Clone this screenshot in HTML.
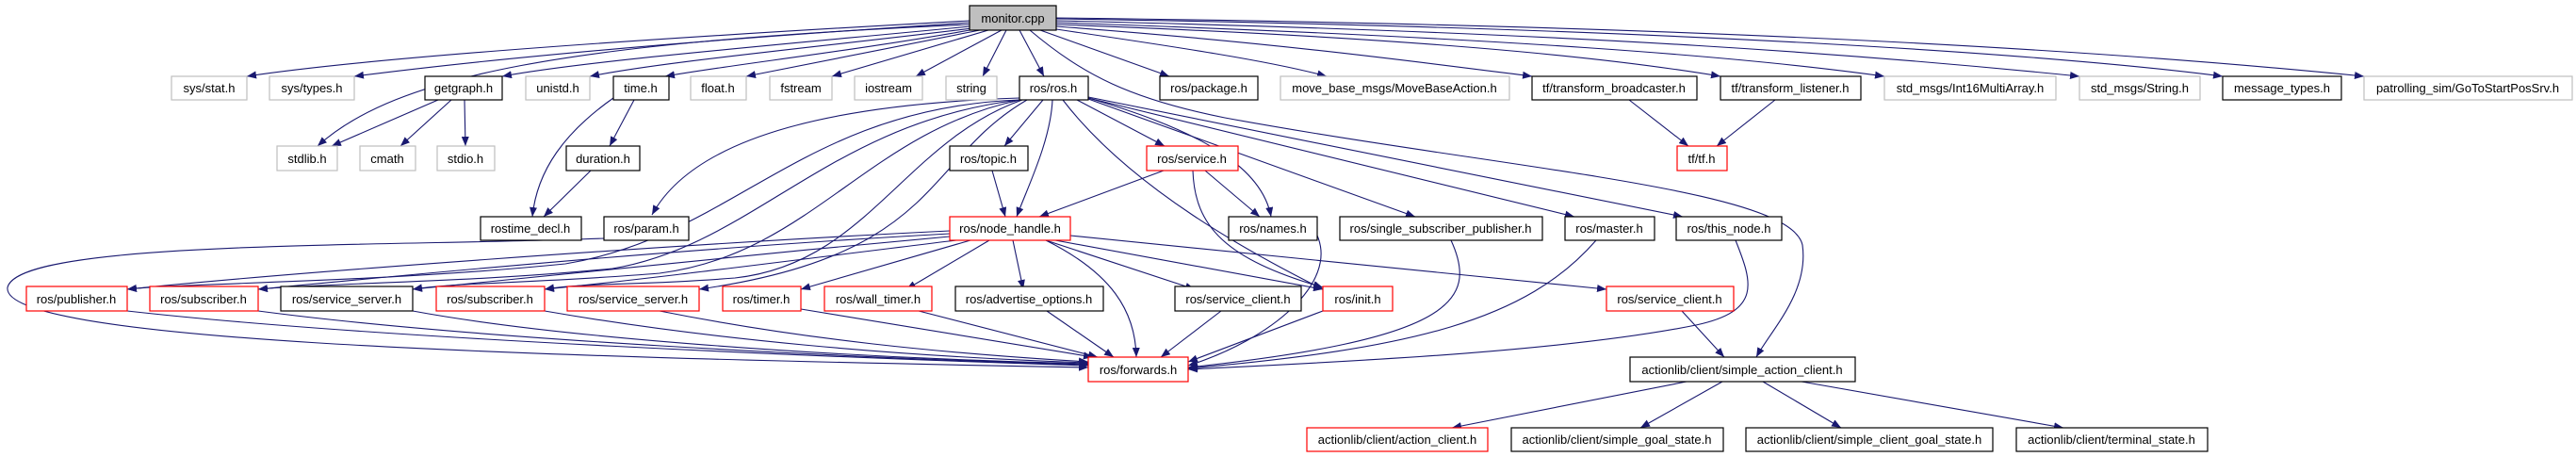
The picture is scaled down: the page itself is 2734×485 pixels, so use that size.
<!DOCTYPE html>
<html><head><meta charset="utf-8"><style>
html,body{margin:0;padding:0;background:#fff;width:2734px;height:485px;overflow:hidden}
svg text{font-family:"Liberation Sans",sans-serif;font-size:13px;text-anchor:middle}
</style></head><body>
<svg width="2734" height="485" viewBox="0 0 2734 485" xmlns="http://www.w3.org/2000/svg">
<defs><marker id="a" markerUnits="userSpaceOnUse" markerWidth="11" markerHeight="8" refX="10" refY="4" orient="auto"><path d="M0,0 L10,4 L0,8 z" fill="#191970"/></marker></defs>
<g fill="none" stroke="#191970" stroke-width="1.1" marker-end="url(#a)">
<path d="M1029,22 C700,40 400,60 262,81"/>
<path d="M1029,24 C700,45 500,65 376,81"/>
<path d="M1029,26 C600,45 420,80 337,155"/>
<path d="M1030,28 C800,50 620,65 533,81"/>
<path d="M1032,30 C850,52 700,66 626,81"/>
<path d="M1035,31 C900,55 780,68 706,81"/>
<path d="M1040,32 L792,81"/>
<path d="M1049,32 L883,81"/>
<path d="M1063,32 L972,81"/>
<path d="M1068,32 L1043,81"/>
<path d="M1082,32 L1108,81"/>
<path d="M1104,32 L1241,81"/>
<path d="M1121,31 C1250,50 1350,65 1408,81"/>
<path d="M1093,32 C1150,80 1200,105 1300,125 C1600,180 1900,200 1913,260 C1920,310 1880,350 1864,379"/>
<path d="M1121,28 C1350,45 1500,65 1626,81"/>
<path d="M1121,26 C1500,40 1700,60 1826,81"/>
<path d="M1121,24 C1600,40 1850,60 2000,81"/>
<path d="M1121,22 C1700,35 2000,60 2207,81"/>
<path d="M1121,20 C1800,30 2200,60 2359,81"/>
<path d="M1121,19 C1900,28 2300,60 2509,81"/>
<path d="M465,106 L352,155"/>
<path d="M479,106 L425,155"/>
<path d="M493,106 L494,155"/>
<path d="M673,106 L647,155"/>
<path d="M651,104 C600,140 570,180 565,230"/>
<path d="M627,181 L577,230"/>
<path d="M1729,106 L1792,155"/>
<path d="M1884,106 L1822,155"/>
<path d="M1082,104 C900,110 740,140 692,228"/>
<path d="M1082,106 C850,115 780,250 600,280 C400,300 200,300 135,307"/>
<path d="M1082,106 C880,130 800,260 650,285 C500,300 350,300 274,307"/>
<path d="M1083,106 C920,140 860,270 700,290 C580,300 480,300 438,307"/>
<path d="M1085,106 C960,150 920,280 780,295 C680,303 620,300 578,307"/>
<path d="M1090,106 C980,170 1000,270 742,307"/>
<path d="M1107,106 L1066,155"/>
<path d="M1117,106 C1115,150 1090,200 1079,230"/>
<path d="M1143,106 L1236,155"/>
<path d="M1128,106 C1200,200 1330,270 1404,307"/>
<path d="M1155,104 C1280,140 1340,180 1349,230"/>
<path d="M1155,105 L1502,230"/>
<path d="M1155,104 L1671,230"/>
<path d="M1155,103 L1786,230"/>
<path d="M1235,181 L1103,230"/>
<path d="M1279,181 L1337,230"/>
<path d="M1266,181 C1268,240 1300,275 1404,305"/>
<path d="M1053,181 L1067,230"/>
<path d="M1008,245 C700,260 300,290 135,307"/>
<path d="M1008,248 C700,265 400,295 274,307"/>
<path d="M1008,251 C800,270 550,295 438,307"/>
<path d="M1015,255 C850,275 700,295 578,307"/>
<path d="M1030,255 L850,307"/>
<path d="M1050,255 L962,307"/>
<path d="M1075,255 L1086,307"/>
<path d="M1110,255 L1268,307"/>
<path d="M1120,255 L1404,307"/>
<path d="M1136,250 L1705,307"/>
<path d="M1110,255 C1180,290 1205,330 1206,379"/>
<path d="M135,330 C400,360 900,380 1155,388"/>
<path d="M274,330 C500,360 900,380 1155,387"/>
<path d="M438,330 C600,360 900,380 1155,386"/>
<path d="M578,330 C750,360 950,378 1155,385"/>
<path d="M700,330 C850,360 1000,375 1155,384"/>
<path d="M850,328 L1160,379"/>
<path d="M975,330 L1165,379"/>
<path d="M1111,330 L1182,379"/>
<path d="M1296,330 L1232,379"/>
<path d="M1404,330 L1261,384"/>
<path d="M641,253 C400,262 20,255 8,305 C0,360 500,378 1155,390"/>
<path d="M1398,250 C1420,300 1350,360 1261,388"/>
<path d="M1540,255 C1570,320 1540,360 1261,390"/>
<path d="M1694,255 C1620,340 1500,370 1261,391"/>
<path d="M1842,255 C1860,300 1870,330 1800,345 C1650,375 1400,385 1261,392"/>
<path d="M1785,330 L1830,379"/>
<path d="M1790,405 L1541,454"/>
<path d="M1828,405 L1741,454"/>
<path d="M1871,405 L1954,454"/>
<path d="M1912,405 L2190,454"/>
</g>
<g stroke-width="1.2">
<rect x="1029" y="6" width="92" height="26" fill="#bfbfbf" stroke="#000"/>
<g fill="#fff" stroke="#bfbfbf">
<rect x="182" y="81" width="80" height="25"/><rect x="286" y="81" width="90" height="25"/>
<rect x="558" y="81" width="68" height="25"/><rect x="733" y="81" width="59" height="25"/>
<rect x="817" y="81" width="66" height="25"/><rect x="907" y="81" width="72" height="25"/>
<rect x="1004" y="81" width="54" height="25"/><rect x="1359" y="81" width="243" height="25"/>
<rect x="2000" y="81" width="182" height="25"/><rect x="2207" y="81" width="128" height="25"/>
<rect x="2509" y="81" width="221" height="25"/>
<rect x="294" y="155" width="64" height="26"/><rect x="382" y="155" width="59" height="26"/>
<rect x="464" y="155" width="61" height="26"/>
</g>
<g fill="#fff" stroke="#000">
<rect x="451" y="81" width="82" height="25"/><rect x="651" y="81" width="59" height="25"/>
<rect x="1082" y="81" width="73" height="25"/><rect x="1231" y="81" width="104" height="25"/>
<rect x="1626" y="81" width="175" height="25"/><rect x="1826" y="81" width="149" height="25"/>
<rect x="2359" y="81" width="126" height="25"/>
<rect x="601" y="155" width="78" height="26"/><rect x="1008" y="155" width="83" height="26"/>
<rect x="510" y="230" width="107" height="25"/><rect x="641" y="230" width="90" height="25"/>
<rect x="1304" y="230" width="94" height="25"/><rect x="1422" y="230" width="215" height="25"/>
<rect x="1661" y="230" width="95" height="25"/><rect x="1779" y="230" width="112" height="25"/>
<rect x="298" y="304" width="140" height="26"/><rect x="1014" y="304" width="157" height="26"/>
<rect x="1247" y="304" width="134" height="26"/>
<rect x="1730" y="379" width="239" height="26"/>
<rect x="1604" y="454" width="225" height="25"/><rect x="1853" y="454" width="262" height="25"/>
<rect x="2140" y="454" width="203" height="25"/>
</g>
<g fill="#fff" stroke="#f00">
<rect x="1217" y="155" width="97" height="26"/><rect x="1780" y="155" width="53" height="26"/>
<rect x="1008" y="230" width="128" height="25"/>
<rect x="28" y="304" width="107" height="26"/><rect x="159" y="304" width="115" height="26"/>
<rect x="463" y="304" width="115" height="26"/><rect x="602" y="304" width="140" height="26"/>
<rect x="767" y="304" width="83" height="26"/><rect x="875" y="304" width="114" height="26"/>
<rect x="1404" y="304" width="74" height="26"/><rect x="1705" y="304" width="135" height="26"/>
<rect x="1155" y="379" width="106" height="26"/>
<rect x="1387" y="454" width="192" height="25"/>
</g>
</g>
<g fill="#000">
<text x="1075" y="24">monitor.cpp</text>
<text x="222" y="98">sys/stat.h</text><text x="331" y="98">sys/types.h</text>
<text x="492" y="98">getgraph.h</text><text x="592" y="98">unistd.h</text>
<text x="680" y="98">time.h</text><text x="762" y="98">float.h</text>
<text x="850" y="98">fstream</text><text x="943" y="98">iostream</text>
<text x="1031" y="98">string</text><text x="1118" y="98">ros/ros.h</text>
<text x="1283" y="98">ros/package.h</text><text x="1480" y="98">move_base_msgs/MoveBaseAction.h</text>
<text x="1713" y="98">tf/transform_broadcaster.h</text><text x="1900" y="98">tf/transform_listener.h</text>
<text x="2091" y="98">std_msgs/Int16MultiArray.h</text><text x="2271" y="98">std_msgs/String.h</text>
<text x="2422" y="98">message_types.h</text><text x="2619" y="98">patrolling_sim/GoToStartPosSrv.h</text>
<text x="326" y="173">stdlib.h</text><text x="411" y="173">cmath</text><text x="494" y="173">stdio.h</text>
<text x="640" y="173">duration.h</text><text x="1049" y="173">ros/topic.h</text>
<text x="1265" y="173">ros/service.h</text><text x="1806" y="173">tf/tf.h</text>
<text x="563" y="247">rostime_decl.h</text><text x="686" y="247">ros/param.h</text>
<text x="1072" y="247">ros/node_handle.h</text><text x="1351" y="247">ros/names.h</text>
<text x="1529" y="247">ros/single_subscriber_publisher.h</text><text x="1708" y="247">ros/master.h</text>
<text x="1835" y="247">ros/this_node.h</text>
<text x="81" y="322">ros/publisher.h</text><text x="216" y="322">ros/subscriber.h</text>
<text x="368" y="322">ros/service_server.h</text><text x="520" y="322">ros/subscriber.h</text>
<text x="672" y="322">ros/service_server.h</text><text x="808" y="322">ros/timer.h</text>
<text x="932" y="322">ros/wall_timer.h</text><text x="1092" y="322">ros/advertise_options.h</text>
<text x="1314" y="322">ros/service_client.h</text><text x="1441" y="322">ros/init.h</text>
<text x="1772" y="322">ros/service_client.h</text>
<text x="1208" y="397">ros/forwards.h</text><text x="1849" y="397">actionlib/client/simple_action_client.h</text>
<text x="1483" y="471">actionlib/client/action_client.h</text><text x="1716" y="471">actionlib/client/simple_goal_state.h</text>
<text x="1984" y="471">actionlib/client/simple_client_goal_state.h</text><text x="2241" y="471">actionlib/client/terminal_state.h</text>
</g>
</svg>
</body></html>
